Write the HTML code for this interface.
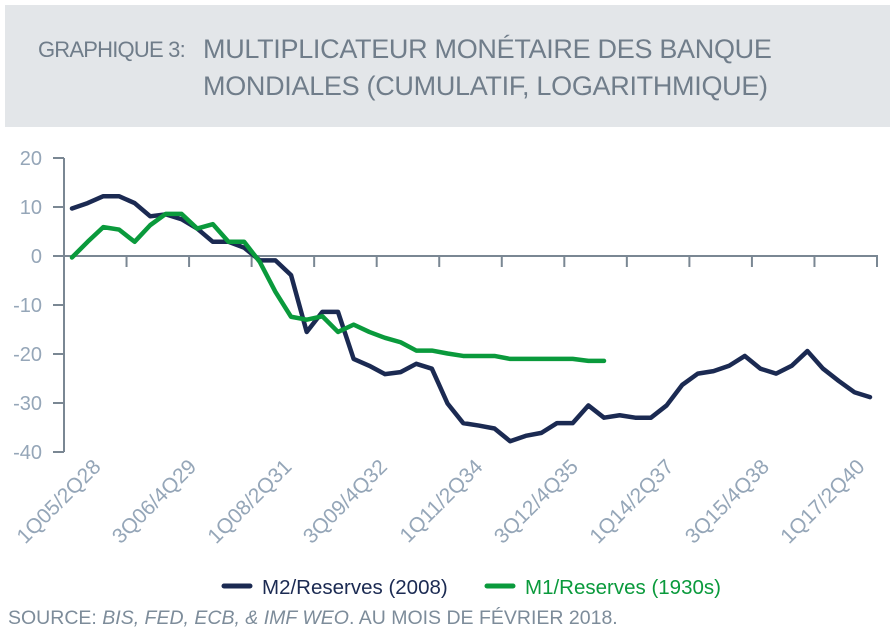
<!DOCTYPE html>
<html><head><meta charset="utf-8"><style>
body{margin:0;width:892px;height:639px;background:#fff;font-family:"Liberation Sans",sans-serif;position:relative;overflow:hidden}
#hdr{position:absolute;left:5px;top:5px;width:885px;height:122px;background:#e3e6e9}
.t{position:absolute;color:#707d8a;font-weight:300}
</style></head><body>
<div id="hdr"></div>
<div class="t" style="left:38px;top:37px;font-size:22px;letter-spacing:-0.8px">GRAPHIQUE 3:</div>
<div class="t" style="left:203px;top:31px;font-size:27px;line-height:37px;letter-spacing:-0.3px">MULTIPLICATEUR MONÉTAIRE DES BANQUE<br>MONDIALES (CUMULATIF, LOGARITHMIQUE)</div>
<svg width="892" height="639" style="position:absolute;left:0;top:0" id="chart"></svg>
<div class="t" style="left:8px;top:607px;font-size:19.5px;color:#7d8c9a">SOURCE: <i>BIS, FED, ECB, &amp; IMF WEO</i>. AU MOIS DE FÉVRIER 2018.</div>
<script>
const m2Values=[9.7,10.8,12.2,12.2,10.8,8.1,8.5,7.5,5.6,2.9,2.9,1.7,-0.9,-0.9,-3.9,-15.5,-11.4,-11.4,-21,-22.4,-24.1,-23.7,-22,-23,-30.1,-34.1,-34.6,-35.2,-37.8,-36.7,-36.1,-34.1,-34.1,-30.5,-33,-32.5,-33,-33,-30.5,-26.3,-24,-23.5,-22.4,-20.4,-23,-24,-22.4,-19.4,-23,-25.5,-27.8,-28.8];
const m1Values=[-0.3,2.9,5.9,5.4,2.9,6.3,8.6,8.6,5.6,6.5,2.9,2.9,-1.2,-7.3,-12.4,-13,-12.3,-15.5,-14,-15.5,-16.7,-17.6,-19.3,-19.3,-19.9,-20.4,-20.4,-20.4,-21,-21,-21,-21,-21,-21.4,-21.4];
const tickLabels=["1Q05/2Q28","3Q06/4Q29","1Q08/2Q31","3Q09/4Q32","1Q11/2Q34","3Q12/4Q35","1Q14/2Q37","3Q15/4Q38","1Q17/2Q40"];
const yTicks=[20,10,0,-10,-20,-30,-40];
const NS="http://www.w3.org/2000/svg",svg=document.getElementById('chart');
const n=m2Values.length;
const x=i=>72+i*(870-72)/(n-1);
const y=v=>256-v*4.9;
function mk(t,a,p){const e=document.createElementNS(NS,t);for(const k in a)e.setAttribute(k,a[k]);(p||svg).appendChild(e);return e;}
const ax=mk('g',{});


mk('line',{x1:64,y1:y(20),x2:64,y2:y(-40),stroke:'#7a8793','stroke-width':2},ax);
mk('line',{x1:64,y1:y(0),x2:878,y2:y(0),stroke:'#7a8793','stroke-width':2},ax);
yTicks.forEach(v=>{
  mk('line',{x1:53,y1:y(v),x2:64,y2:y(v),stroke:'#7a8793','stroke-width':2},ax);
  const t=mk('text',{x:42,y:y(v)+7,'text-anchor':'end','font-size':20,fill:'#95a6b8'},ax);
  
  
  t.textContent=v;
});
for(let k=1;k<=13;k++){const xx=64+k*(877-64)/13;mk('line',{x1:xx,y1:y(0),x2:xx,y2:y(0)+11,stroke:'#7a8793','stroke-width':2},ax);}
tickLabels.forEach((s,k)=>{
  const i=k*6, xx=x(i)+30+k*1.6;
  const t=mk('text',{x:xx,y:468,'text-anchor':'end','font-size':21,fill:'#95a6b8',transform:`rotate(-45 ${xx} 468)`},ax);
  
  
  t.textContent=s;
});
function line(vals,color,name){
  const p=mk('polyline',{points:vals.map((v,i)=>x(i)+','+y(v)).join(' '),fill:'none',stroke:color,'stroke-width':4.5,'stroke-linejoin':'round','stroke-linecap':'round'});
  
  
}
line(m2Values,'#1b2a52','m2-reserves-line');
line(m1Values,'#0a9a3c','m1-reserves-line');
const lg=mk('g',{});


mk('line',{x1:224,y1:586,x2:250,y2:586,stroke:'#1b2a52','stroke-width':5,'stroke-linecap':'round'},lg);
const l1=mk('text',{x:262,y:594,'font-size':20.5,fill:'#1b2a52'},lg);l1.textContent='M2/Reserves (2008)';


mk('line',{x1:487,y1:586,x2:513,y2:586,stroke:'#0a9a3c','stroke-width':5,'stroke-linecap':'round'},lg);
const l2=mk('text',{x:525,y:594,'font-size':20.5,fill:'#0a9a3c'},lg);l2.textContent='M1/Reserves (1930s)';


</script>
</body></html>
